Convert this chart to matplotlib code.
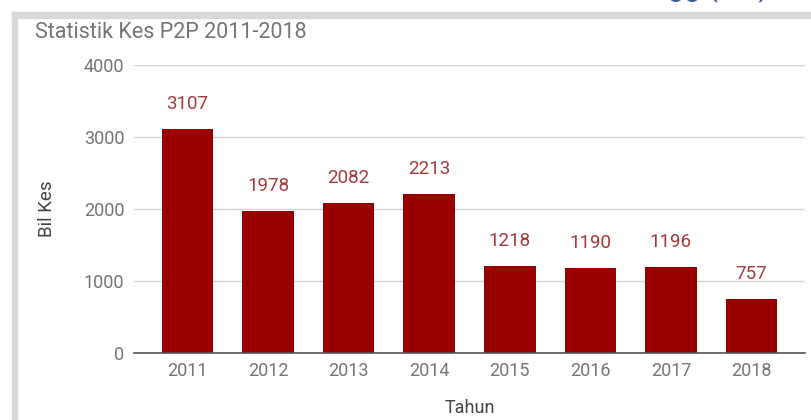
import matplotlib
matplotlib.use('Agg')
import matplotlib.pyplot as plt
from matplotlib.patches import Rectangle

plt.rcParams['font.family'] = ['Roboto', 'DejaVu Sans']

# data
years = ['2011', '2012', '2013', '2014', '2015', '2016', '2017', '2018']
cases = [3107, 1978, 2082, 2213, 1218, 1190, 1196, 757]
y_ticks = [0, 1000, 2000, 3000, 4000]

bar_color = '#990000'
label_color = '#a8393b'
tick_color = '#757575'

fig = plt.figure(figsize=(8.11, 4.2), dpi=100)
fig.patch.set_facecolor('white')

# grey frame from the page the chart was cut out of
fig.patches.append(Rectangle((12 / 811, 0), 5 / 811, 408 / 420, transform=fig.transFigure,
                             color='#d9d9d9', zorder=0))
fig.patches.append(Rectangle((12 / 811, 402 / 420), 799 / 811, 6 / 420, transform=fig.transFigure,
                             color='#d9d9d9', zorder=0))
# bottom edge of a heading above the cropped chart
fig.text(668 / 811, 424 / 420, 'gg (ms)', color='#3b5ca8', fontsize=21,
         va='baseline', ha='left')

ax = fig.add_axes([134 / 811, 1 - 353.3 / 420, (805 - 134) / 811, (353.3 - 65) / 420])

x = list(range(len(years)))
ax.bar(x, cases, width=0.64, color=bar_color, zorder=3)

for i, v in zip(x, cases):
    ax.annotate(str(v), (i, v), xytext=(0, 18), textcoords='offset points',
                ha='center', va='center', fontsize=13.5, color=label_color)

ax.set_xlim(-0.664, len(years) - 1 + 0.664)
ax.set_ylim(0, 4000)
ax.set_xticks(x)
ax.set_xticklabels(years)
ax.set_yticks(y_ticks)

for s in ['top', 'right', 'left']:
    ax.spines[s].set_visible(False)
ax.spines['bottom'].set_color('#555555')
ax.spines['bottom'].set_linewidth(1.2)
ax.spines['bottom'].set_zorder(4)

ax.grid(axis='y', color='#d6d6d6', linewidth=1, zorder=0)
ax.tick_params(axis='both', length=0, colors=tick_color, labelsize=13)
ax.tick_params(axis='y', pad=7)
ax.tick_params(axis='x', pad=6)

ax.set_xlabel('Tahun', fontsize=13, color='#444444', labelpad=14)
ax.set_ylabel('Bil Kes', fontsize=13.5, color='#444444', labelpad=20)

fig.text(35 / 811, 1 - 32 / 420, 'Statistik Kes P2P 2011-2018', fontsize=15.5,
         color='#757575', va='center', ha='left')

fig.savefig('out.png', dpi=100)
